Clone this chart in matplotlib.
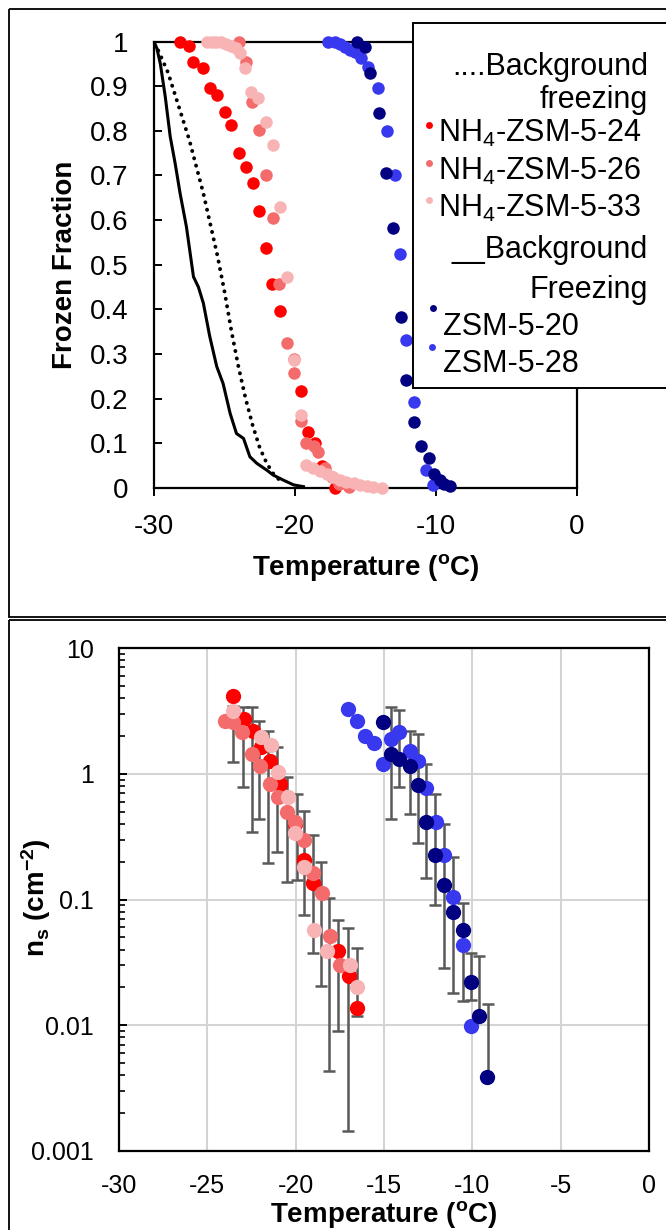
import matplotlib
matplotlib.use("Agg")
import matplotlib.pyplot as plt
import numpy as np
from matplotlib.ticker import FuncFormatter, LogLocator, NullFormatter
from matplotlib.patches import Rectangle

plt.rcParams['font.family'] = ['Liberation Sans', 'DejaVu Sans']
plt.rcParams['mathtext.fontset'] = 'custom'
plt.rcParams['mathtext.rm'] = 'Liberation Sans'
plt.rcParams['mathtext.bf'] = 'Liberation Sans:bold'
plt.rcParams['mathtext.it'] = 'Liberation Sans:italic'
plt.rcParams['axes.unicode_minus'] = False

# colours
c24 = '#ff0000'
c26 = '#f46b6b'
c33 = '#f8b4b4'
c20 = '#000080'
c28 = '#3838ee'

# ---- top panel: frozen fraction ----
ff24_T = [-28.15, -27.55, -27.2, -26.5, -26.0, -25.5, -24.95, -24.55, -24.0, -23.5, -23.0,
          -22.55, -22.05, -21.6, -21.05, -19.55, -19.05, -18.55, -18.05, -17.15]
ff24_F = [1.0, 0.99, 0.955, 0.94, 0.895, 0.88, 0.843, 0.813, 0.751, 0.72, 0.683,
          0.62, 0.537, 0.458, 0.396, 0.217, 0.126, 0.1, 0.05, 0.0]

ff26_T = [-24.0, -23.5, -23.05, -22.55, -22.05, -21.55, -21.1, -20.55, -20.05, -20.05,
          -19.6, -19.2, -18.65, -18.4, -17.9, -17.4, -16.9, -16.2]
ff26_F = [1.0, 0.955, 0.865, 0.802, 0.70, 0.604, 0.458, 0.324, 0.29, 0.258,
          0.15, 0.10, 0.095, 0.08, 0.045, 0.025, 0.01, 0.003]

ff33_T = [-26.25, -25.9, -25.6, -25.25, -24.9, -24.55, -24.2, -23.9, -23.55, -23.1, -22.6,
          -22.05, -21.55, -21.05, -20.6, -20.1, -19.55, -19.2, -18.7, -18.25, -17.75, -17.3,
          -16.8, -16.35, -15.85, -15.4, -14.9, -14.45, -13.85]
ff33_F = [1.0, 1.0, 1.0, 1.0, 0.995, 0.99, 0.985, 0.975, 0.94, 0.888, 0.873,
          0.82, 0.768, 0.63, 0.473, 0.287, 0.163, 0.052, 0.044, 0.037, 0.031, 0.025,
          0.019, 0.014, 0.011, 0.007, 0.004, 0.002, 0.0]

ff20_T = [-15.6, -15.05, -14.7, -14.05, -13.55, -13.05, -12.5, -12.1, -11.55, -11.05,
          -10.5, -10.15, -9.75, -9.4, -9.0]
ff20_F = [1.0, 0.988, 0.929, 0.839, 0.705, 0.582, 0.384, 0.242, 0.147, 0.093,
          0.067, 0.032, 0.019, 0.01, 0.004]

ff28_T = [-17.65, -17.15, -16.8, -16.45, -16.1, -15.75, -15.3, -14.8, -14.1, -13.5,
          -12.9, -12.55, -12.1, -11.55, -10.7, -10.2]
ff28_F = [1.0, 0.998, 0.994, 0.988, 0.981, 0.977, 0.962, 0.944, 0.895, 0.80,
          0.70, 0.525, 0.331, 0.193, 0.04, 0.006]

bg_solid_T = [-30.0, -29.8, -29.55, -29.2, -28.85, -28.5, -28.15, -27.7, -27.2, -26.85,
              -26.5, -26.05, -25.55, -25.1, -24.6, -24.15, -23.65, -23.2, -22.7, -22.0,
              -21.55, -20.85, -20.1, -19.4]
bg_solid_F = [1.0, 0.985, 0.95, 0.876, 0.787, 0.727, 0.66, 0.585, 0.473, 0.45,
              0.414, 0.34, 0.272, 0.234, 0.167, 0.122, 0.111, 0.07, 0.055, 0.04,
              0.029, 0.018, 0.007, 0.003]

bg_dot_T = [-29.7, -29.0, -28.5, -28.0, -27.5, -27.0, -26.5, -26.0, -25.5, -25.0,
            -24.5, -24.0, -23.5, -23.0, -22.5, -22.0, -21.5, -21.0]
bg_dot_F = [0.98, 0.93, 0.88, 0.83, 0.78, 0.72, 0.66, 0.59, 0.52, 0.44,
            0.35, 0.27, 0.20, 0.14, 0.09, 0.055, 0.03, 0.015]

# ---- bottom panel: ns ----
ns24_T = [-23.55, -22.95, -22.4, -21.95, -21.45, -20.9, -20.05, -19.55, -19.0, -17.6, -17.0, -16.55]
ns24 = [4.17, 2.72, 2.2, 1.62, 1.27, 0.83, 0.40, 0.206, 0.135, 0.0387, 0.0245, 0.0138]

ns26_T = [-24.0, -23.55, -23.05, -22.45, -22.0, -21.45, -21.0, -20.5, -20.05, -19.55,
          -19.0, -18.5, -18.05, -17.5]
ns26 = [2.64, 2.56, 2.13, 1.44, 1.16, 0.83, 0.65, 0.50, 0.41, 0.30,
        0.162, 0.112, 0.051, 0.030]

ns33_T = [-23.55, -21.95, -21.4, -21.0, -20.45, -20.05, -19.55, -18.95, -18.2, -16.95, -16.55]
ns33 = [3.17, 1.95, 1.68, 1.03, 0.65, 0.335, 0.18, 0.0575, 0.039, 0.030, 0.020]

ns20_T = [-15.05, -14.6, -14.15, -13.55, -13.1, -12.65, -12.1, -11.6, -11.1, -10.55,
          -10.1, -9.6, -9.15]
ns20 = [2.56, 1.44, 1.31, 1.16, 0.81, 0.414, 0.225, 0.131, 0.080, 0.0575,
        0.022, 0.0118, 0.0039]

ns28_T = [-17.05, -16.55, -16.1, -15.55, -15.05, -14.6, -14.15, -13.55, -13.1, -12.65,
          -12.05, -11.6, -11.1, -10.55, -10.1]
ns28 = [3.27, 2.61, 2.01, 1.75, 1.2, 1.89, 2.16, 1.53, 1.27, 0.775,
        0.414, 0.225, 0.105, 0.0437, 0.00986]

# error bar ends (low, high)
errR_T = [-23.55, -23.0, -22.5, -22.05, -21.55, -21.05, -20.5, -19.95, -19.55, -19.0,
          -18.55, -18.1, -17.6, -17.05, -16.55]
errR_hi = [3.47, 3.37, 3.37, 2.64, 2.2, 1.62, 0.94, 0.69, 0.51, 0.324,
           0.2, 0.102, 0.069, 0.059, 0.041]
errR_lo = [1.24, 0.78, 0.345, 0.44, 0.194, 0.24, 0.139, 0.143, 0.0755, 0.0376,
           0.0204, 0.0043, 0.009, 0.00145, 0.0118]

errB_T = [-14.6, -14.15, -13.55, -13.1, -12.6, -12.1, -11.6, -11.1, -10.55, -10.05, -9.6, -9.1]
errB_hi = [3.37, 3.21, 2.2, 2.07, 1.2, 0.69, 0.40, 0.216, 0.0935, 0.0376, 0.0353, 0.0148]
errB_lo = [0.44, 0.79, 0.476, 0.279, 0.147, 0.0906, 0.0286, 0.0181, 0.0156, 0.016, 0.0118, 0.0039]

W, H = 666, 1230
fig = plt.figure(figsize=(W / 100, H / 100), dpi=100)


def box(l, t, r, b):
    return [l / W, 1 - b / H, (r - l) / W, (b - t) / H]


fmt = FuncFormatter(lambda v, p: f"{v:g}")

# top chart
ax1 = fig.add_axes(box(154, 41.5, 577, 488))
ax1.plot(bg_solid_T, bg_solid_F, color='k', lw=2.2, zorder=2)
ax1.plot(bg_dot_T, bg_dot_F, color='k', lw=2.8, linestyle=(0, (0.05, 1.9)),
         dash_capstyle='round', zorder=2)
for T, F, c in [(ff24_T, ff24_F, c24), (ff26_T, ff26_F, c26), (ff33_T, ff33_F, c33),
                (ff28_T, ff28_F, c28), (ff20_T, ff20_F, c20)]:
    ax1.plot(T, F, 'o', ms=9, color=c, mew=0, clip_on=False, zorder=3)
ax1.set_xlim(-30, 0)
ax1.set_ylim(0, 1)
ax1.set_xticks([-30, -20, -10, 0])
ax1.set_yticks(np.linspace(0, 1, 11))
ax1.yaxis.set_major_formatter(fmt)
ax1.tick_params(axis='y', direction='in', length=6, width=1.4, pad=18.5, labelsize=20)
ax1.tick_params(axis='x', direction='out', length=6, width=1.4, pad=13, labelsize=20)
for s in ax1.spines.values():
    s.set_linewidth(1.6)
ax1.set_xlabel(r"Temperature ($^{\mathbf{o}}$C)", fontsize=20, fontweight='bold', va='center')
ax1.xaxis.set_label_coords(0.5, -0.179)
ax1.set_ylabel("Frozen Fraction", fontsize=20, fontweight='bold', va='center')
ax1.yaxis.set_label_coords(-0.21, 0.5)

# bottom chart
ax2 = fig.add_axes(box(119, 648, 649, 1151))
ax2.set_yscale('log')
ax2.errorbar(errR_T, errR_hi, yerr=[np.array(errR_hi) - np.array(errR_lo), np.zeros(len(errR_hi))],
             fmt='none', ecolor='#595959', elinewidth=1.8, capsize=4.5, capthick=1.8, zorder=2)
ax2.errorbar(errB_T, errB_hi, yerr=[np.array(errB_hi) - np.array(errB_lo), np.zeros(len(errB_hi))],
             fmt='none', ecolor='#595959', elinewidth=1.8, capsize=4.5, capthick=1.8, zorder=2)
for T, v, c in [(ns24_T, ns24, c24), (ns26_T, ns26, c26), (ns33_T, ns33, c33),
                (ns28_T, ns28, c28), (ns20_T, ns20, c20)]:
    ax2.plot(T, v, 'o', ms=11, color=c, mew=0, zorder=3)
ax2.set_xlim(-30, 0)
ax2.set_ylim(0.001, 10)
ax2.set_xticks(range(-30, 1, 5))
ax2.yaxis.set_major_locator(LogLocator(base=10, numticks=10))
ax2.yaxis.set_minor_locator(LogLocator(base=10, subs=np.arange(2, 10), numticks=20))
ax2.yaxis.set_major_formatter(fmt)
ax2.yaxis.set_minor_formatter(NullFormatter())
ax2.grid(True, which='major', color='#d4d4d4', lw=1.5)
ax2.set_axisbelow(True)
ax2.tick_params(axis='y', which='major', direction='in', length=6, width=1.4, pad=18, labelsize=18)
ax2.tick_params(axis='y', which='minor', direction='in', length=4, width=1.2)
ax2.tick_params(axis='x', length=0, pad=16.5, labelsize=18)
for s in ax2.spines.values():
    s.set_linewidth(1.6)
ax2.set_xlabel(r"Temperature ($^{\mathbf{o}}$C)", fontsize=20, fontweight='bold', va='center')
ax2.xaxis.set_label_coords(0.5, -0.127)
ax2.set_ylabel(r"n$_{\mathbf{s}}$ (cm$^{\mathbf{-2}}$)", fontsize=20, fontweight='bold', va='center')
ax2.yaxis.set_label_coords(-0.157, 0.503)

# overlay for panel frames and the legend (pixel coordinates)
ov = fig.add_axes([0, 0, 1, 1])
ov.set_xlim(0, W)
ov.set_ylim(H, 0)
ov.axis('off')
ov.add_patch(Rectangle((9, 9), 700, 608, fill=False, ec='k', lw=1.3))
ov.add_patch(Rectangle((9, 620), 700, 700, fill=False, ec='k', lw=1.3))
ov.add_patch(Rectangle((413, 23), 300, 365, fc='white', ec='k', lw=1.4, zorder=1))

ov.text(648, 75, "....Background", ha='right', va='baseline', fontsize=22, zorder=3)
ov.text(648, 108, "freezing", ha='right', va='baseline', fontsize=22, zorder=3)
ov.text(438, 142, r"NH$_{\mathregular{4}}$-ZSM-5-24", ha='left', va='baseline', fontsize=22, zorder=3)
ov.text(438, 180, r"NH$_{\mathregular{4}}$-ZSM-5-26", ha='left', va='baseline', fontsize=22, zorder=3)
ov.text(438, 217, r"NH$_{\mathregular{4}}$-ZSM-5-33", ha='left', va='baseline', fontsize=22, zorder=3)
ov.text(648, 258, "__Background", ha='right', va='baseline', fontsize=22, zorder=3)
ov.text(648, 298, "Freezing", ha='right', va='baseline', fontsize=22, zorder=3)
ov.text(443, 335, "ZSM-5-20", ha='left', va='baseline', fontsize=22, zorder=3)
ov.text(443, 372, "ZSM-5-28", ha='left', va='baseline', fontsize=22, zorder=3)
for (x, y), c in zip([(429, 125), (429, 163), (429, 200), (433, 308), (432, 347)],
                     [c24, c26, c33, c20, c28]):
    ov.plot(x, y, 'o', ms=5, color=c, mew=0, zorder=4)

fig.savefig("out.png", dpi=100)
